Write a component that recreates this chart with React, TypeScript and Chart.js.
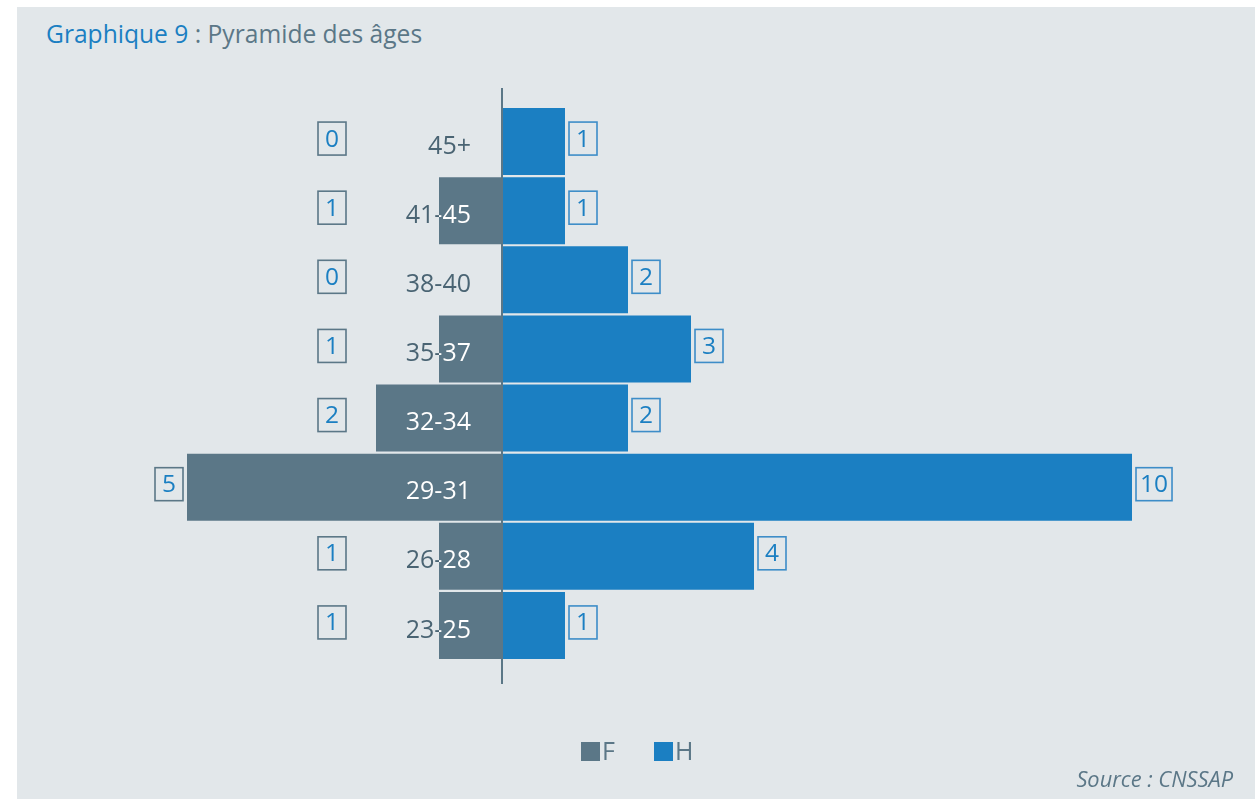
import React, { useEffect, useRef } from "react";
import { Chart, registerables } from "chart.js";

Chart.register(...registerables);

const categories = ["45+", "41-45", "38-40", "35-37", "32-34", "29-31", "26-28", "23-25"];
const femmes = [0, 1, 0, 1, 2, 5, 1, 1];
const hommes = [1, 1, 2, 3, 2, 10, 4, 1];
const seriesLabels = ["F", "H"];

const COL_F = "#5b7787";
const COL_H = "#1b7fc2";
const COL_TEXT = "#4a6473";
const COL_BG = "#e2e7ea";
const FONT = "'Open Sans', sans-serif";

const overlayPlugin = {
  id: "pyramidOverlay",
  afterDatasetsDraw(chart: any) {
    const ctx = chart.ctx as CanvasRenderingContext2D;
    const yScale = chart.scales.y;
    const xScale = chart.scales.x;
    const zeroX = xScale.getPixelForValue(0);
    const metaF = chart.getDatasetMeta(0);
    const metaH = chart.getDatasetMeta(1);

    // central axis
    ctx.save();
    ctx.strokeStyle = COL_F;
    ctx.lineWidth = 2;
    ctx.beginPath();
    ctx.moveTo(zeroX, chart.chartArea.top - 19);
    ctx.lineTo(zeroX, chart.chartArea.bottom + 24);
    ctx.stroke();
    ctx.restore();

    const drawBox = (text: string, left: number, cy: number, border: string) => {
      ctx.font = `24.5px ${FONT}`;
      const tw = ctx.measureText(text).width;
      const w = Math.max(28, tw + 8);
      const h = 33;
      ctx.lineWidth = 1.6;
      ctx.strokeStyle = border;
      ctx.strokeRect(left, cy - h / 2, w, h);
      ctx.fillStyle = COL_H;
      ctx.textAlign = "center";
      ctx.textBaseline = "middle";
      ctx.fillText(text, left + w / 2, cy + 1);
      return w;
    };

    categories.forEach((cat, i) => {
      const cy = yScale.getPixelForValue(i);
      // category label: dark on background, white on the F bar
      ctx.save();
      ctx.font = `25px ${FONT}`;
      ctx.textAlign = "right";
      ctx.textBaseline = "middle";
      ctx.fillStyle = COL_TEXT;
      const lx = 471;
      const ly = cy + 5;
      ctx.fillText(cat, lx, ly);
      const barF = metaF.data[i] as any;
      if (barF && femmes[i] > 0) {
        const p = barF.getProps(["x", "y", "base", "height"], true);
        ctx.beginPath();
        ctx.rect(Math.min(p.x, p.base), p.y - p.height / 2, Math.abs(p.base - p.x), p.height);
        ctx.clip();
        ctx.fillStyle = "#ffffff";
        ctx.fillText(cat, lx, ly);
      }
      ctx.restore();

      // F value boxes
      ctx.save();
      ctx.font = `24.5px ${FONT}`;
      const tF = String(femmes[i]);
      const wF = Math.max(28, ctx.measureText(tF).width + 8);
      const endF = xScale.getPixelForValue(-femmes[i]);
      const rightF = Math.min(346, endF - 4);
      drawBox(tF, rightF - wF, cy - 3, COL_F);
      ctx.restore();

      // H value boxes
      ctx.save();
      const barH = metaH.data[i] as any;
      const endH = barH ? barH.getProps(["x"], true).x : xScale.getPixelForValue(hommes[i]);
      drawBox(String(hommes[i]), endH + 4, cy - 3, "#3d8dc8");
      ctx.restore();
    });

    // legend
    ctx.save();
    const items = [
      { label: chart.data.datasets[0].label, color: COL_F, x: 581 },
      { label: chart.data.datasets[1].label, color: COL_H, x: 654 },
    ];
    items.forEach((it) => {
      ctx.fillStyle = it.color;
      ctx.fillRect(it.x, 742, 19, 19);
      ctx.fillStyle = "#5b7787";
      ctx.font = `25px ${FONT}`;
      ctx.textAlign = "left";
      ctx.textBaseline = "middle";
      ctx.fillText(it.label, it.x + 21, 753);
    });
    ctx.restore();
  },
};

export default function App() {
  const canvasRef = useRef<HTMLCanvasElement | null>(null);

  useEffect(() => {
    if (!canvasRef.current) return;
    const chart = new Chart(canvasRef.current, {
      type: "bar",
      data: {
        labels: categories,
        datasets: [
          {
            label: seriesLabels[0],
            data: femmes.map((v) => -v),
            backgroundColor: COL_F,
            borderWidth: 0,
            barPercentage: 0.97,
            categoryPercentage: 1,
          },
          {
            label: seriesLabels[1],
            data: hommes,
            backgroundColor: COL_H,
            borderWidth: 0,
            barPercentage: 0.97,
            categoryPercentage: 1,
          },
        ],
      },
      options: {
        indexAxis: "y",
        animation: false,
        responsive: false,
        maintainAspectRatio: false,
        layout: { padding: { left: 155.5, right: 60, top: 107, bottom: 139 } },
        scales: {
          x: { display: false, stacked: true, min: -5.5, max: 11 },
          y: { display: false, stacked: true },
        },
        plugins: {
          legend: { display: false },
          tooltip: { enabled: false },
          title: { display: false },
        },
      },
      plugins: [overlayPlugin],
    });
    return () => chart.destroy();
  }, []);

  return (
    <div style={{ position: "fixed", left: 0, top: 0, width: 1255, height: 799, background: "#ffffff", overflow: "hidden" }}>
      <div style={{ position: "absolute", left: 17, top: 7, width: 1238, height: 792, background: COL_BG }} />
      <div
        style={{
          position: "absolute",
          left: 46,
          top: 21.5,
          fontFamily: FONT,
          fontSize: 24.6,
          lineHeight: "24.6px",
          whiteSpace: "nowrap",
          color: "#5b7787",
        }}
      >
        <span style={{ color: COL_H }}>Graphique 9</span> : Pyramide des âges
      </div>
      <canvas ref={canvasRef} width={1255} height={799} style={{ position: "absolute", left: 0, top: 0, width: 1255, height: 799 }} />
      <div
        style={{
          position: "absolute",
          right: 22,
          top: 767.5,
          fontFamily: FONT,
          fontStyle: "italic",
          fontSize: 21.8,
          lineHeight: "21.8px",
          whiteSpace: "nowrap",
          color: "#5b7787",
        }}
      >
        Source : CNSSAP
      </div>
    </div>
  );
}
